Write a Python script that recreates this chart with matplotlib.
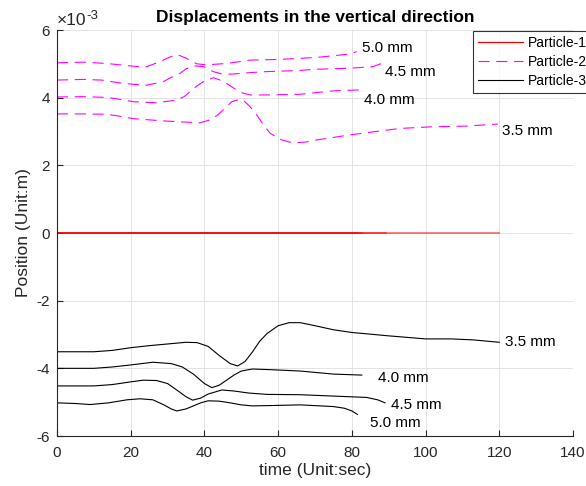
import numpy as np
import matplotlib.pyplot as plt
from matplotlib.ticker import FuncFormatter

plt.rcParams['font.family'] = ['Liberation Sans', 'DejaVu Sans']
plt.rcParams['axes.unicode_minus'] = False

# values, positions in units of 1e-3 m
scale = 1e-3
sizes = ['3.5 mm', '4.0 mm', '4.5 mm', '5.0 mm']

# Particle-2 (magenta, dashed)
p2_t35 = [0, 7, 13, 16, 20.7, 27.9, 34.3, 38.8, 41.5, 43.5, 45.1, 47.4, 49.6, 50.5, 52.4, 54.2, 56,
          57.8, 60.5, 63, 65, 67.5, 70.5, 79.5, 93, 102, 111, 119.6]
p2_y35 = [3.52, 3.52, 3.51, 3.47, 3.38, 3.32, 3.28, 3.26, 3.34, 3.48, 3.64, 3.88, 3.95, 3.93, 3.73, 3.49, 3.2,
          2.95, 2.77, 2.69, 2.67, 2.69, 2.75, 2.9, 3.09, 3.14, 3.16, 3.22]
p2_t40 = [0, 7, 13, 16, 20.7, 27, 32.5, 34.5, 36.1, 38, 39.7, 42.4, 44, 46, 48, 49.6, 52.4, 56.9, 65.9, 75, 82.2]
p2_y40 = [4.02, 4.03, 4.01, 3.97, 3.88, 3.85, 3.93, 4.03, 4.18, 4.35, 4.47, 4.59, 4.53, 4.42, 4.28, 4.16, 4.08,
          4.08, 4.10, 4.20, 4.23]
p2_t45 = [0, 7, 12, 16.2, 20, 24.3, 28.8, 31, 33.4, 35, 37, 39.7, 42.4, 45.1, 48, 52.4, 56.9, 65, 70.5, 79.5,
          85.8, 89.3]
p2_y45 = [4.52, 4.54, 4.52, 4.45, 4.40, 4.37, 4.47, 4.60, 4.72, 4.85, 4.94, 4.92, 4.77, 4.69, 4.70, 4.74, 4.77,
          4.80, 4.84, 4.87, 4.92, 5.06]
p2_t50 = [0, 7, 13.5, 18, 21.6, 24.4, 27.9, 30, 32.5, 35.2, 37.9, 40.6, 46, 52.4, 60.5, 70.5, 79.5, 81.3]
p2_y50 = [5.03, 5.05, 5.01, 4.96, 4.92, 4.92, 5.06, 5.17, 5.28, 5.16, 5.0, 4.97, 5.01, 5.11, 5.13, 5.19, 5.29, 5.36]

# Particle-3 (black, solid)
p3_t35 = [0, 5, 10, 15, 20, 25, 30, 35, 38, 41, 44, 47, 49, 51, 53, 55, 57, 60, 63, 66, 70, 75, 80, 90, 100,
          107, 113, 120]
p3_y35 = [-3.51, -3.51, -3.51, -3.47, -3.39, -3.33, -3.28, -3.23, -3.24, -3.35, -3.62, -3.86, -3.93, -3.80,
          -3.52, -3.20, -2.97, -2.74, -2.65, -2.65, -2.74, -2.86, -2.94, -3.04, -3.13, -3.13, -3.16, -3.23]
p3_t40 = [0, 5, 10, 15, 20, 26, 31, 34, 37, 40, 42, 44, 46, 48, 50, 53, 58, 66, 75, 82.7]
p3_y40 = [-4.0, -4.0, -4.0, -3.96, -3.90, -3.82, -3.86, -3.96, -4.17, -4.45, -4.57, -4.50, -4.35, -4.20,
          -4.08, -4.02, -4.04, -4.08, -4.17, -4.20]
p3_t45 = [0, 5, 10, 15, 20, 23.4, 27, 30, 33, 35, 36.8, 39, 41, 44.7, 48, 52, 57, 66, 75, 84, 87, 89]
p3_y45 = [-4.52, -4.52, -4.52, -4.48, -4.40, -4.35, -4.36, -4.45, -4.68, -4.84, -4.94, -4.88, -4.76, -4.64,
          -4.67, -4.73, -4.77, -4.78, -4.82, -4.86, -4.93, -5.02]
p3_t50 = [0, 5, 9, 14, 19, 22.5, 26, 29, 31, 32.5, 35, 37, 39, 41, 44, 47, 50, 53, 58, 66, 75, 78, 80, 81.5]
p3_y50 = [-5.02, -5.04, -5.07, -5.02, -4.93, -4.9, -4.93, -5.08, -5.2, -5.26, -5.2, -5.11, -5.02, -4.96,
          -4.97, -5.02, -5.08, -5.11, -5.1, -5.08, -5.13, -5.18, -5.26, -5.36]

# Particle-1 stays at zero, ends at the same times as the others
p1_tend = [120, 82.7, 89.3, 81.5]

# label anchors (data coords, 1e-3 units)
p2_lab_x = [120.7, 83.3, 89.0, 82.7]
p2_lab_y = [3.01, 3.93, 4.76, 5.47]
p3_lab_x = [121.5, 87.1, 90.6, 84.9]
p3_lab_y = [-3.21, -4.29, -5.08, -5.62]

p2_t = [p2_t35, p2_t40, p2_t45, p2_t50]
p2_y = [p2_y35, p2_y40, p2_y45, p2_y50]
p3_t = [p3_t35, p3_t40, p3_t45, p3_t50]
p3_y = [p3_y35, p3_y40, p3_y45, p3_y50]

fig = plt.figure(figsize=(5.86, 4.86), dpi=100)
ax = fig.add_axes([57 / 586, 50 / 486, 516 / 586, 406 / 486])

axcol = '#262626'
for i in range(4):
    ax.plot([0, p1_tend[i]], [0, 0], color='red', lw=1.3, alpha=0.55)
    l2, = ax.plot(p2_t[i], np.array(p2_y[i]) * scale, color='magenta', lw=0.8, dashes=(10, 6))
    l3, = ax.plot(p3_t[i], np.array(p3_y[i]) * scale, color='black', lw=0.8)
    ax.text(p2_lab_x[i], p2_lab_y[i] * scale, sizes[i], fontsize=11, va='center', ha='left')
    ax.text(p3_lab_x[i], p3_lab_y[i] * scale, sizes[i], fontsize=11, va='center', ha='left')

leg_r, = ax.plot([], [], color='red', lw=0.9)
leg = ax.legend([leg_r, l2, l3], ['Particle-1', 'Particle-2', 'Particle-3'], loc='upper left',
                bbox_to_anchor=(0.804, 1.0), fontsize=10, frameon=True, fancybox=False,
                handlelength=3.2, handletextpad=0.35, borderpad=0.35, labelspacing=0.35,
                borderaxespad=0.1)
leg.get_frame().set_edgecolor('black')
leg.get_frame().set_linewidth(0.8)
leg.set_clip_on(False)

ax.set_xlim(0, 140)
ax.set_ylim(-6e-3, 6e-3)
ax.set_xticks(np.arange(0, 141, 20))
ax.set_yticks(np.arange(-6, 7, 2) * scale)
ax.yaxis.set_major_formatter(FuncFormatter(lambda v, p: f'{v / scale:g}'))

# exponent label in the MATLAB style, above the y axis
ax.text(0, 1.006, '\u00d710', transform=ax.transAxes, fontsize=12.5, color=axcol,
        ha='left', va='bottom')
ax.annotate('-3', xy=(0, 1.006), xycoords='axes fraction', xytext=(21.5, 4),
            textcoords='offset points', fontsize=9.5, color=axcol, ha='left', va='bottom')

ax.grid(True, color='#e3e3e3', lw=0.7)
ax.set_axisbelow(True)
for s in ['top', 'right']:
    ax.spines[s].set_visible(False)
for s in ['left', 'bottom']:
    ax.spines[s].set_color(axcol)
    ax.spines[s].set_linewidth(0.8)
ax.tick_params(direction='in', length=4, width=0.8, colors=axcol, labelsize=11)
ax.tick_params(axis='x', pad=7)
ax.tick_params(axis='y', pad=5)

ax.set_title('Displacements in the vertical direction', fontsize=12.5, fontweight='bold', pad=6)
ax.set_xlabel('time (Unit:sec)', fontsize=12.5, color=axcol, labelpad=2)
ax.set_ylabel('Position (Unit:m)', fontsize=12.5, color=axcol, labelpad=4)

fig.savefig('out.png', dpi=100)
